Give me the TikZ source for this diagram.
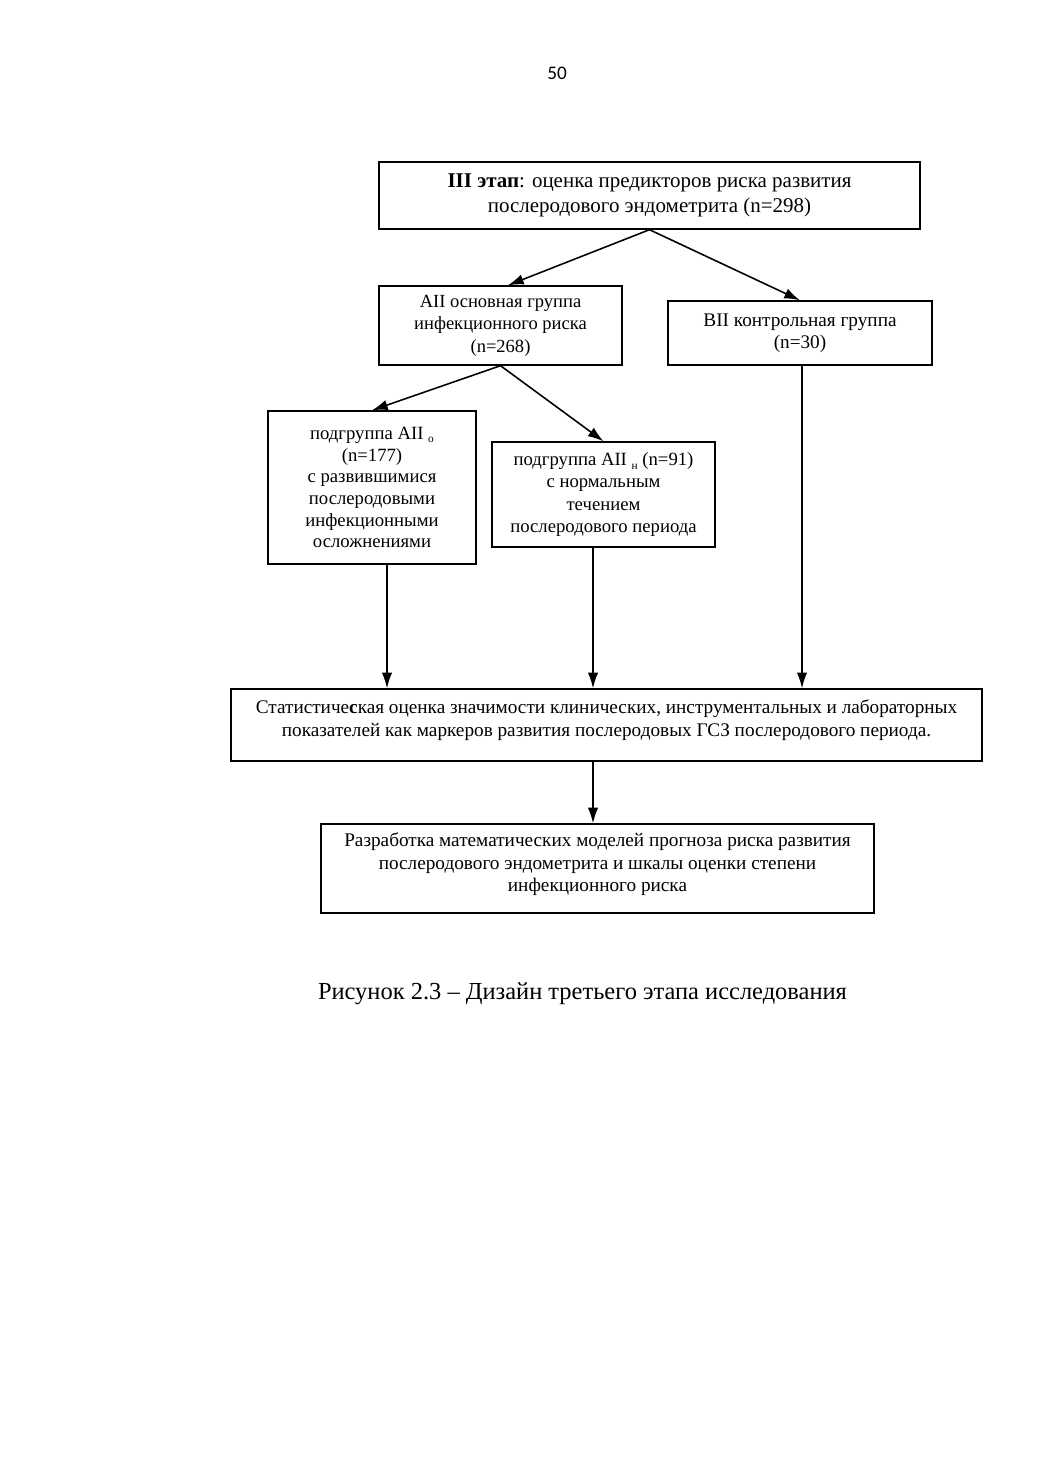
\documentclass[tikz,border=0pt]{standalone}
\usepackage{fontspec}
\setmainfont{Liberation Serif}
\newfontfamily\pagefont{Carlito}
\usetikzlibrary{arrows.meta,calc}
\def\px{0.5721pt}
\tikzset{
  box/.style={draw, line width=0.8pt, align=center, inner sep=0pt, font=\fontsize{11}{13}\selectfont},
  txt/.style={align=center, inner sep=0pt},
  arr/.style={line width=0.9pt, -{Latex[length=9pt,width=6pt]}},
}
\newcommand{\sub}[1]{\raisebox{-0.4ex}{\fontsize{6.5}{7}\selectfont #1}}
\begin{document}
\begin{tikzpicture}[x=0.5721pt,y=-0.5721pt]
\useasboundingbox (0,0) rectangle (1040,1471);
\node[font=\pagefont\fontsize{11}{12}\selectfont] (pg) at (557,73) {50};

\node[box, minimum width={541*\px}, minimum height={67*\px}, font=\fontsize{12}{14.3}\selectfont] (top) at (649.5,195.5)
  {\textbf{III этап}: оценка предикторов риска развития\\послеродового эндометрита (n=298)};

\node[box, minimum width={243*\px}, minimum height={79*\px}, font=\fontsize{10.6}{12.9}\selectfont] (aii) at (500.5,325.5)
  {АII основная группа\\инфекционного риска\\(n=268)};

\node[box, minimum width={264*\px}, minimum height={64*\px}, font=\fontsize{11}{12.6}\selectfont] (bii) at (800,333)
  {ВII контрольная группа\\(n=30)};

\node[box, minimum width={208*\px}, minimum height={153*\px}, font=\fontsize{10.7}{12.4}\selectfont] (aiio) at (372,487.5)
  {подгруппа АII \sub{о}\\(n=177)\\с развившимися\\послеродовыми\\инфекционными\\осложнениями};

\node[box, minimum width={223*\px}, minimum height={105*\px}, font=\fontsize{10.7}{12.6}\selectfont] (aiin) at (603.5,494.5)
  {подгруппа АII \sub{н} (n=91)\\с нормальным\\течением\\послеродового периода};

\node[box, minimum width={751*\px}, minimum height={72*\px}] (stat) at (606.5,725) {};
\node[txt, font=\fontsize{11}{13.2}\selectfont] (statt) at (606.5,720.5)
  {Статистиче\textbf{с}кая оценка значимости клинических, инструментальных и лабораторных\\показателей как маркеров развития послеродовых ГСЗ послеродового периода.};

\node[box, minimum width={553*\px}, minimum height={89*\px}] (razr) at (597.5,868.5) {};
\node[txt, font=\fontsize{11}{12.9}\selectfont] (razrt) at (597.5,864.5)
  {Разработка математических моделей прогноза риска развития\\послеродового эндометрита и шкалы оценки степени\\инфекционного риска};

\node[font=\fontsize{14}{16}\selectfont] (cap) at (582.5,994)
  {Рисунок 2.3 – Дизайн третьего этапа исследования};

\draw[arr] (top.south) -- ($(aii.north)+(7.5,0)$);
\draw[arr] (top.south) -- (bii.north);
\draw[arr] (aii.south) -- (aiio.north);
\draw[arr] (aii.south) -- (aiin.north);
\draw[arr] ($(aiio.south)+(15,0)$) coordinate (c1) -- (c1 |- stat.north);
\draw[arr] ($(aiin.south)+(-10.5,0)$) coordinate (c2) -- (c2 |- stat.north);
\draw[arr] ($(bii.south)+(2,0)$) coordinate (c3) -- (c3 |- stat.north);
\draw[arr] ($(stat.south)+(-13.5,0)$) coordinate (c4) -- (c4 |- razr.north);
\end{tikzpicture}
\end{document}
